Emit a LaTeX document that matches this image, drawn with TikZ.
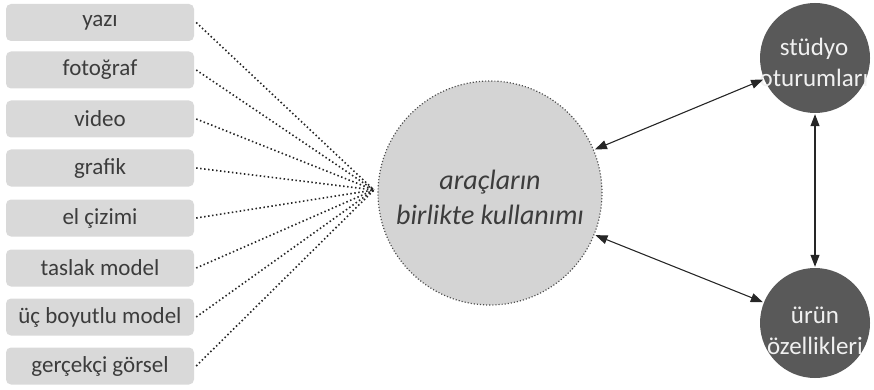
\documentclass[tikz,border=0pt]{standalone}
\usepackage{fontspec}
\setmainfont{Carlito}
\usetikzlibrary{arrows.meta}
\definecolor{boxgray}{HTML}{D9D9D9}
\definecolor{bigfill}{HTML}{D4D4D4}
\definecolor{darkc}{HTML}{595959}
\definecolor{txt}{HTML}{3C3C3C}
\definecolor{lighttxt}{HTML}{F0F0F0}
\tikzset{
  toolbox/.style={fill=boxgray, rounded corners=5pt, minimum width=188pt, minimum height=37pt, inner sep=0pt, text=txt, font=\fontsize{23}{28}\selectfont},
  dotline/.style={draw=black!85, line width=1.6pt, dash pattern=on 1.5pt off 2.5pt},
  bigcirc/.style={circle, fill=bigfill, draw=black!70, line width=1.2pt, dash pattern=on 1.1pt off 2pt, minimum size=224pt, inner sep=0pt},
  darkcirc/.style={circle, fill=darkc, minimum size=110pt, inner sep=0pt},
  bigtext/.style={align=center, text=txt, font=\fontsize{28}{35}\selectfont\itshape},
  darktext/.style={align=center, text=lighttxt, font=\fontsize{25}{31}\selectfont},
  dblarrow/.style={draw=black!85, line width=1.1pt, {Triangle[length=12pt,width=9pt]}-{Triangle[length=12pt,width=9pt]}, shorten >=1pt, shorten <=1pt}
}
\begin{document}
\begin{tikzpicture}[x=1pt,y=-1pt]
\useasboundingbox (0,0) rectangle (874,390);
\node[toolbox] (b1) at (100,22.5) {yazı};
\node[toolbox] (b2) at (100,70) {fotoğraf};
\node[toolbox] (b3) at (100,119) {video};
\node[toolbox] (b4) at (100,168) {grafik};
\node[toolbox] (b5) at (100,218) {el çizimi};
\node[toolbox] (b6) at (100,268) {taslak model};
\node[toolbox] (b7) at (100,317) {üç boyutlu model};
\node[toolbox] (b8) at (100,366) {gerçekçi görsel};
\coordinate (hub) at (374,190);
\foreach \i in {1,...,8} {\draw[dotline] ([xshift=2pt]b\i.east) -- (hub);}
\node[bigcirc] (big) at (490,193) {};
\node[bigtext] (bigl) at (490,197) {araçların\\birlikte kullanımı};
\node[darkcirc] (st) at (815,58) {};
\node[darktext] (stl) at (814,62) {stüdyo\\oturumları};
\node[darkcirc] (ur) at (815,323) {};
\node[darktext] (url) at (815,331) {ürün\\özellikleri};
\draw[dblarrow] (big) -- (st);
\draw[dblarrow] (big) -- (ur);
\draw[dblarrow] (st) -- (ur);
\end{tikzpicture}
\end{document}
